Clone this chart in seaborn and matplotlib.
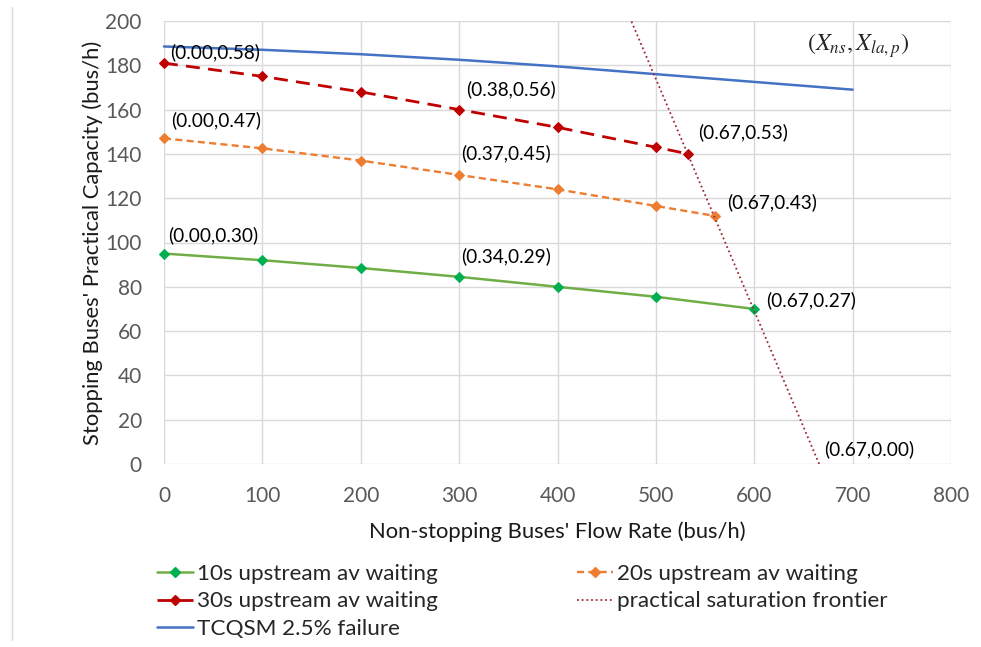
import matplotlib
matplotlib.use("Agg")
import matplotlib.pyplot as plt
import seaborn as sns
import pandas as pd
from matplotlib.lines import Line2D

# ---- data ----
x_10s = [0, 100, 200, 300, 400, 500, 600]
y_10s = [95, 92, 88.5, 84.5, 80, 75.5, 70]
x_20s = [0, 100, 200, 300, 400, 500, 560]
y_20s = [147, 142.5, 137, 130.5, 124, 116.5, 112]
x_30s = [0, 100, 200, 300, 400, 500, 533]
y_30s = [181, 175, 168, 160, 152, 143, 140]
x_tcqsm = [0, 100, 200, 300, 400, 500, 600, 700]
y_tcqsm = [188.5, 187, 185, 182.5, 179.5, 176, 172.5, 169]
x_frontier = [666, 475]
y_frontier = [0, 200]

labels = ["(0.00,0.58)", "(0.38,0.56)", "(0.00,0.47)", "(0.37,0.45)",
          "(0.67,0.53)", "(0.67,0.43)", "(0.00,0.30)", "(0.34,0.29)",
          "(0.67,0.27)", "(0.67,0.00)"]
label_x = [6, 307, 7, 302, 543, 572, 4, 302, 612, 671]
label_y = [186, 169, 155.3, 140.3, 150, 118.4, 103.4, 93.6, 74, 6.6]

series_names = ["10s upstream av waiting", "20s upstream av waiting",
                "30s upstream av waiting", "practical saturation frontier",
                "TCQSM 2.5% failure"]

sns.set_theme(style="white")
plt.rcParams['font.family'] = ['Lato', 'DejaVu Sans']
plt.rcParams['mathtext.fontset'] = 'stix'

fig = plt.figure(figsize=(9.81, 6.47), dpi=100)
ax = fig.add_axes([164/981, 1-464/647, (951-164)/981, (464-21)/647])

green_line, green_mk = "#70AD47", "#00B050"
orange = "#ED7D31"
red = "#C00000"
blue = "#4472C4"
maroon = "#9E2A35"

df10 = pd.DataFrame({"x": x_10s, "y": y_10s})
df20 = pd.DataFrame({"x": x_20s, "y": y_20s})
df30 = pd.DataFrame({"x": x_30s, "y": y_30s})
dft = pd.DataFrame({"x": x_tcqsm, "y": y_tcqsm})
dff = pd.DataFrame({"x": x_frontier, "y": y_frontier})

sns.lineplot(data=dft, x="x", y="y", ax=ax, color=blue, lw=1.8, sort=False, clip_on=False)
sns.lineplot(data=df30, x="x", y="y", ax=ax, color=red, lw=2, sort=False, clip_on=False,
             marker="D", markersize=5.5, markeredgecolor=red, linestyle=(0, (5, 3)))
sns.lineplot(data=df20, x="x", y="y", ax=ax, color=orange, lw=1.7, sort=False, clip_on=False,
             marker="D", markersize=5.5, markeredgecolor=orange, linestyle=(0, (3, 1.8)))
sns.lineplot(data=df10, x="x", y="y", ax=ax, color=green_line, lw=1.8, sort=False, clip_on=False,
             marker="D", markersize=5.5, markerfacecolor=green_mk, markeredgecolor=green_mk)
sns.lineplot(data=dff, x="x", y="y", ax=ax, color=maroon, lw=1.3, sort=False,
             linestyle=(0, (1, 1.6)))

for t, xx, yy in zip(labels, label_x, label_y):
    ax.text(xx, yy, t, fontsize=13.7, color="black", va="center", ha="left")
ax.text(654, 189, r"$(X_{ns},X_{la,p})$", fontsize=17.5, va="center", ha="left")

ax.set_xlim(0, 800)
ax.set_ylim(0, 200)
ax.set_xticks(range(0, 801, 100))
ax.set_yticks(range(0, 201, 20))
for s in ax.spines.values():
    s.set_visible(False)
ax.grid(True, color="#D9D9D9", lw=1)
ax.tick_params(axis="both", length=6, width=1, color="#D9D9D9", direction="out",
               labelsize=15, labelcolor="#595959")
ax.tick_params(axis="x", pad=10)
ax.tick_params(axis="y", pad=10)
ax.set_xlabel("Non-stopping Buses' Flow Rate (bus/h)", fontsize=15.8, color="#1a1a1a", labelpad=11)
ax.set_ylabel("Stopping Buses' Practical Capacity (bus/h)", fontsize=15.8, color="#1a1a1a", labelpad=2)

# legend
h10 = Line2D([], [], color=green_line, lw=1.8, marker="D", markersize=5.5,
             markerfacecolor=green_mk, markeredgecolor=green_mk)
h20 = Line2D([], [], color=orange, lw=1.7, marker="D", markersize=5.5, linestyle=(0, (3, 1.8)))
h30 = Line2D([], [], color=red, lw=2, marker="D", markersize=5.5, linestyle=(0, (5, 3)))
hf = Line2D([], [], color=maroon, lw=1.3, linestyle=(0, (1, 1.6)))
ht = Line2D([], [], color=blue, lw=1.8)
handles = [h10, h30, ht, h20, hf]
names = [series_names[0], series_names[2], series_names[4], series_names[1], series_names[3]]
fig.legend(handles, names, ncol=2, loc="upper left", bbox_to_anchor=(157/981, 1-564/647),
           frameon=False, fontsize=16.2, handlelength=1.6, handletextpad=0.18,
           columnspacing=6.2, labelspacing=0.33, borderpad=0, borderaxespad=0)

fig.add_artist(Line2D([12/981, 12/981], [1-640/647, 1-7/647], color="#D9D9D9", lw=1,
                      transform=fig.transFigure))

fig.savefig("out.png", dpi=100)
